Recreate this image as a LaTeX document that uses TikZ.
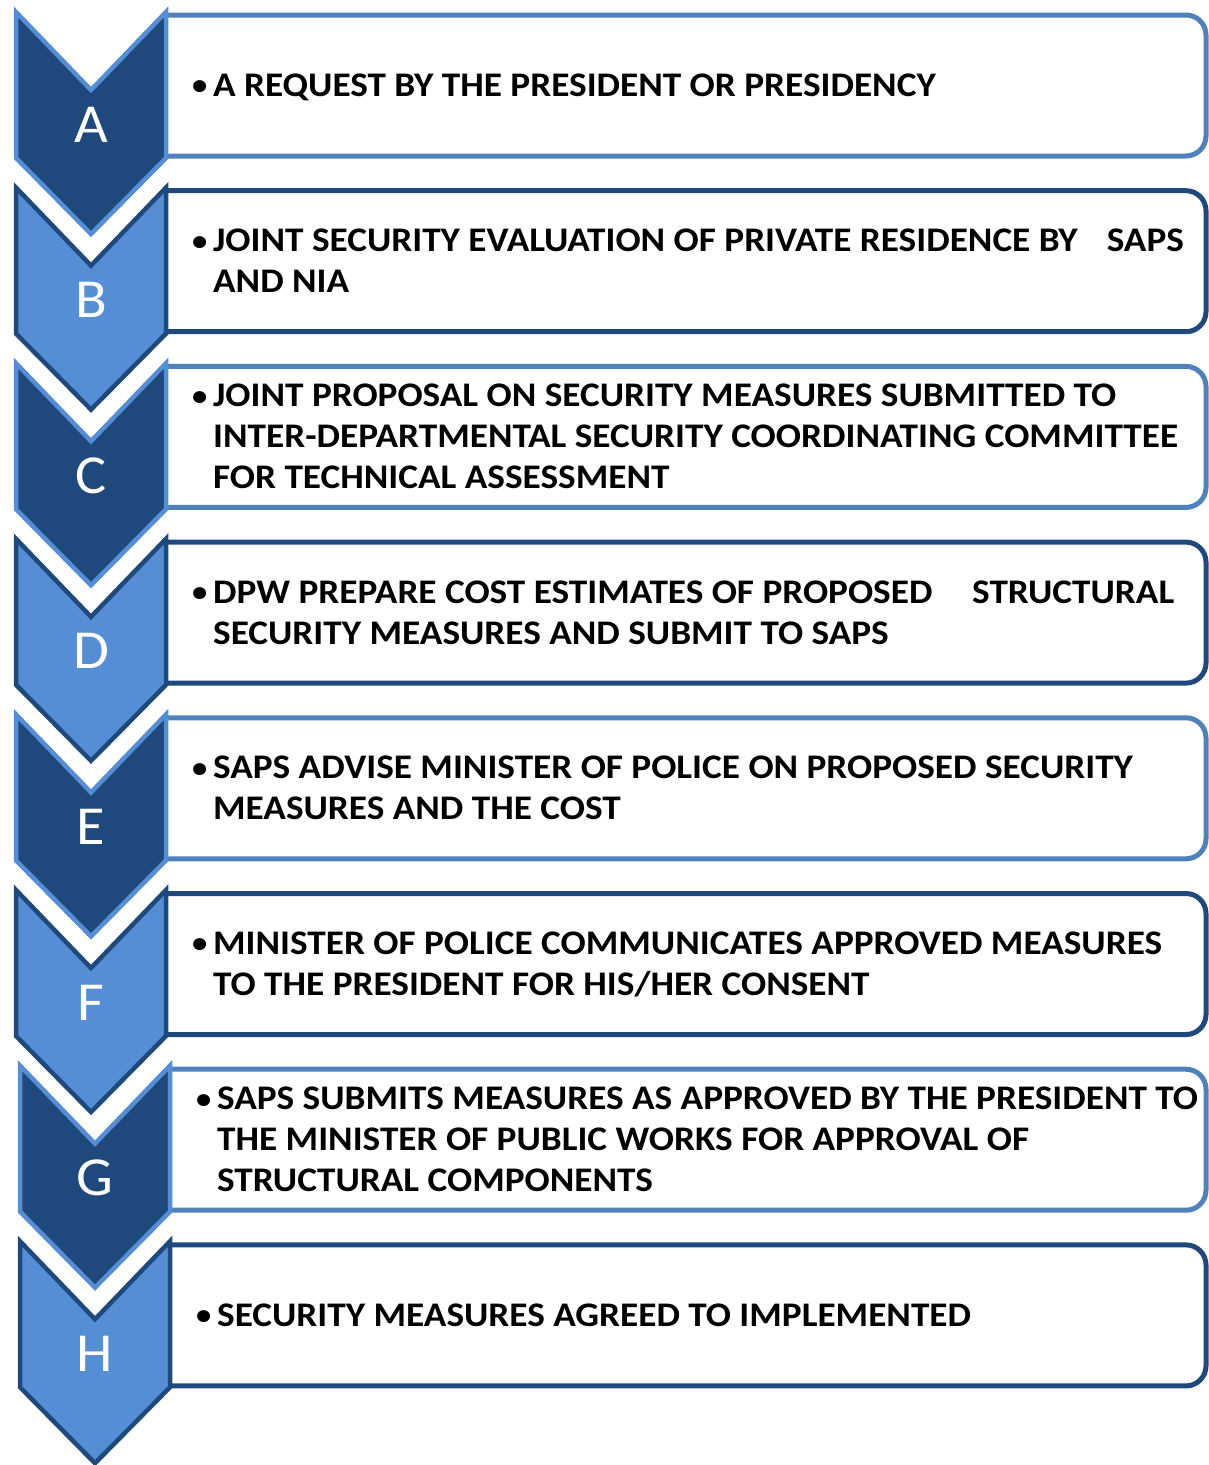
\documentclass[tikz,border=0pt]{standalone}
\usepackage{fontspec}
\usepackage{graphicx}
\setmainfont{Carlito}
\definecolor{dk}{RGB}{31,73,125}
\definecolor{lt}{RGB}{85,142,213}
\definecolor{ltb}{RGB}{79,129,189}
\tikzset{
  chev/.style={line width=4.5pt, line join=miter},
  darkchev/.style={chev, fill=dk, draw=lt},
  lightchev/.style={chev, fill=lt, draw=dk},
  boxline/.style={line width=5pt, rounded corners=20pt},
  letter/.style={anchor=base, inner sep=0pt, text=white, font=\fontsize{55}{60}\selectfont},
  itemtext/.style={anchor=base west, inner sep=0pt, font=\bfseries\fontsize{34.5}{41}\selectfont}
}
\newcommand\mybul{\makebox[19.4pt][l]{\raisebox{1.6pt}{\scalebox{0.82}{\textbullet}}}}
\newcommand\chevitem[7]{%
  \pgfmathsetmacro\yz{12+175.6*#1}%
  \pgfmathsetmacro\bt{15+175.7*#1}%
  \pgfmathsetmacro\bb{\bt+141}%
  \pgfmathsetmacro\cx{91+#5}%
  \pgfmathsetmacro\tb{(\bt+\bb)/2+11-20.5*(#6-1)}%
  \draw[boxline, draw=#4] (\cx+75,\bt) -- (1206,\bt) -- (1206,\bb) -- (\cx+75,\bb);
  \draw[#3] (\cx-75,\yz) -- (\cx,\yz+78) -- (\cx+75,\yz) -- (\cx+75,\yz+146) -- (\cx,\yz+222) -- (\cx-75,\yz+146) -- cycle;
  \node[letter] (L#2) at (\cx,\yz+130) {\scalebox{1.06}[1]{#2}};
  \node[itemtext] (T#2) at (\cx+101,\tb) {\scalebox{1.08}[1]{\parbox[t]{1000pt}{\hangindent=19.4pt\hangafter=1\noindent\mybul#7}}};
}
\begin{document}
\begin{tikzpicture}[x=1pt,y=-1pt]
\useasboundingbox (0,0) rectangle (1209,1465);
\chevitem{0}{A}{darkchev}{ltb}{0}{1}{A REQUEST BY THE PRESIDENT OR PRESIDENCY}
\chevitem{1}{B}{lightchev}{dk}{0}{2}{JOINT SECURITY EVALUATION OF PRIVATE RESIDENCE BY\hspace{19pt} SAPS\\AND NIA}
\chevitem{2}{C}{darkchev}{ltb}{0}{3}{JOINT PROPOSAL ON SECURITY MEASURES SUBMITTED TO\\INTER-DEPARTMENTAL SECURITY COORDINATING COMMITTEE\\FOR TECHNICAL ASSESSMENT}
\chevitem{3}{D}{lightchev}{dk}{0}{2}{DPW PREPARE COST ESTIMATES OF PROPOSED\hspace{29pt} STRUCTURAL\\SECURITY MEASURES AND SUBMIT TO SAPS}
\chevitem{4}{E}{darkchev}{ltb}{0}{2}{SAPS ADVISE MINISTER OF POLICE ON PROPOSED SECURITY\\MEASURES AND THE COST}
\chevitem{5}{F}{lightchev}{dk}{0}{2}{MINISTER OF POLICE COMMUNICATES APPROVED MEASURES\\TO THE PRESIDENT FOR HIS/HER CONSENT}
\chevitem{6}{G}{darkchev}{ltb}{4}{3}{SAPS SUBMITS MEASURES AS APPROVED BY THE PRESIDENT TO\\THE MINISTER OF PUBLIC WORKS FOR APPROVAL OF\\STRUCTURAL COMPONENTS}
\chevitem{7}{H}{lightchev}{dk}{4}{1}{SECURITY MEASURES AGREED TO IMPLEMENTED}
\end{tikzpicture}
\end{document}
